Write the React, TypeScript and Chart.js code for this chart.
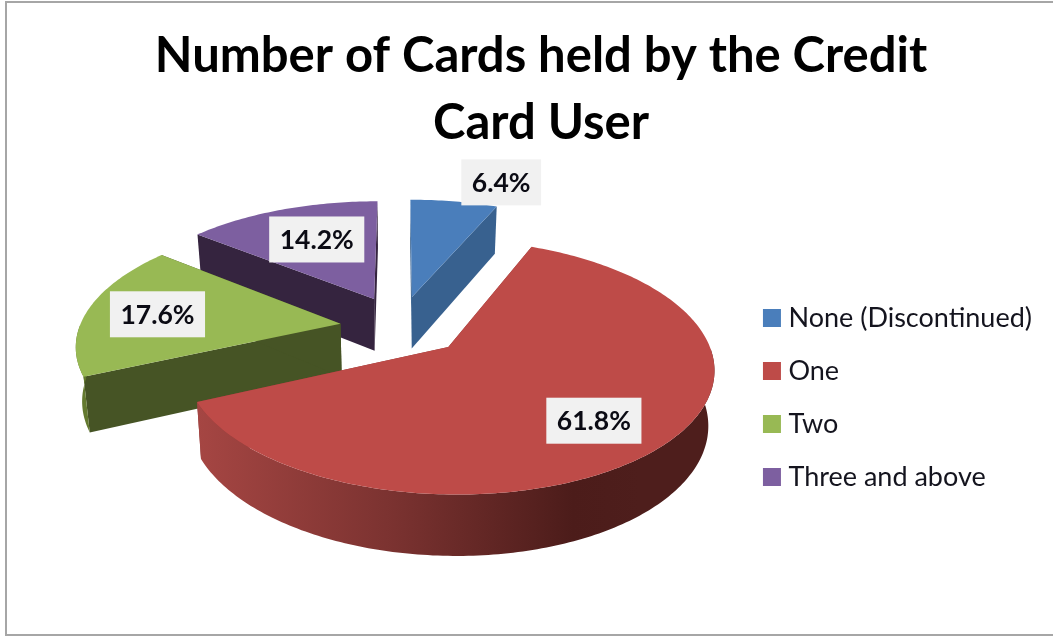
import React, { useEffect, useRef } from "react";
import { Chart, registerables } from "chart.js";

Chart.register(...registerables);

const titleLines = ["Number of Cards held by the Credit", "Card User"];
const categories = ["None (Discontinued)", "One", "Two", "Three and above"];
const shares = [6.4, 61.8, 17.6, 14.2];
const shareLabels = ["6.4%", "61.8%", "17.6%", "14.2%"];
const topColors = ["#4a7ebb", "#be4b48", "#98b954", "#7d5fa0"];
const cutColors = ["#38618f", "#8c3836", "#465425", "#35243f"];
const wallColors = ["#38618f", "", "#63792f", "#35243f"];

// view of the tilted pie
const CX = 400, CY = 324, RADIUS = 260;
const TILT = 0.462, PERSPECTIVE = 0.0006, TAPER = 0.02, DEPTH = 53;
const explodeBy = [62, 69, 62, 62];
const radiusBy = [1, 0.977, 1, 1];
const nudgeU = [0, -2.5, 2, 0];
const nudgeV = [0, 0, 7, 0];
const paintOrder = [0, 3, 2, 1];
const labelReach = [1.285, 0.71, 0.71, 0.63];
const labelTurn = [8, 4, -3, 1.5];
const labelBox = { padX: 10.5, height: 46 };
const legendShift = { x: 9, y: 68 };

function project(u: number, v: number, z: number) {
  const w = 1 - PERSPECTIVE * v;
  const k = 1 + TAPER * z;
  return { x: CX + u / w / k, y: CY + (TILT * v) / w / k + (DEPTH * z) / w };
}

function polygon(ctx: CanvasRenderingContext2D, pts: { x: number; y: number }[], fill: string | CanvasGradient) {
  ctx.beginPath();
  pts.forEach((p, i) => (i ? ctx.lineTo(p.x, p.y) : ctx.moveTo(p.x, p.y)));
  ctx.closePath();
  ctx.fillStyle = fill;
  ctx.fill();
}

const pie3d = {
  id: "pie3d",
  afterLayout(chart: any) {
    const lg = chart.legend;
    lg.left += legendShift.x;
    lg.right += legendShift.x;
    lg.top += legendShift.y;
    lg.bottom += legendShift.y;
  },
  beforeDatasetsDraw(chart: any) {
    const ctx: CanvasRenderingContext2D = chart.ctx;
    const arcs = chart.getDatasetMeta(0).data;
    const scale = RADIUS / arcs[0].outerRadius;

    const wallFill = ctx.createLinearGradient(195, 0, 640, 0);
    wallFill.addColorStop(0, "#a64643");
    wallFill.addColorStop(0.45, "#7a3230");
    wallFill.addColorStop(0.85, "#4c1c1a");
    wallFill.addColorStop(1, "#4e1e1c");

    for (const i of paintOrder) {
      const arc = arcs[i];
      const a0 = arc.startAngle, a1 = arc.endAngle;
      const mid = (a0 + a1) / 2;
      const ou = Math.cos(mid) * explodeBy[i] + nudgeU[i];
      const ov = Math.sin(mid) * explodeBy[i] + nudgeV[i];
      const r = arc.outerRadius * scale * radiusBy[i];
      const rim = (a: number, z: number) => project(ou + r * Math.cos(a), ov + r * Math.sin(a), z);
      const steps = Math.max(8, Math.ceil((a1 - a0) * 60));
      const angles: number[] = [];
      for (let s = 0; s <= steps; s++) angles.push(a0 + ((a1 - a0) * s) / steps);

      // cut faces
      for (const a of [a0, a1]) {
        polygon(ctx, [project(ou, ov, 0), rim(a, 0), rim(a, 1), project(ou, ov, 1)], cutColors[i]);
      }
      // outer wall (only the part facing the viewer)
      const front = angles.filter((a) => Math.sin(a) > 0);
      if (front.length > 1) {
        polygon(
          ctx,
          [...front.map((a) => rim(a, 0)), ...front.slice().reverse().map((a) => rim(a, 1))],
          wallColors[i] || wallFill
        );
      }
      // top face
      polygon(ctx, [project(ou, ov, 0), ...angles.map((a) => rim(a, 0))], arc.options.backgroundColor);
    }

    // value labels
    ctx.font = "bold 26.5px Lato";
    ctx.textAlign = "center";
    ctx.textBaseline = "middle";
    arcs.forEach((arc: any, i: number) => {
      const mid = (arc.startAngle + arc.endAngle) / 2;
      const turned = mid + (labelTurn[i] * Math.PI) / 180;
      const rr = labelReach[i] * RADIUS;
      const p = project(
        Math.cos(mid) * explodeBy[i] + rr * Math.cos(turned),
        Math.sin(mid) * explodeBy[i] + rr * Math.sin(turned),
        0
      );
      const tw = ctx.measureText(shareLabels[i]).width + labelBox.padX * 2;
      ctx.fillStyle = "#f1f1f1";
      ctx.fillRect(p.x - tw / 2, p.y - labelBox.height / 2, tw, labelBox.height);
      ctx.fillStyle = "#0b0b14";
      ctx.fillText(shareLabels[i], p.x, p.y + 1);
    });
    return false;
  },
};

export default function App() {
  const ref = useRef<HTMLCanvasElement | null>(null);
  useEffect(() => {
    document.documentElement.style.overflow = "hidden";
    document.body.style.margin = "0";
    document.body.style.background = "#fff";
    const chart = new Chart(ref.current!, {
      type: "pie",
      data: {
        labels: categories,
        datasets: [{ data: shares, backgroundColor: topColors, borderWidth: 0 }],
      },
      plugins: [pie3d],
      options: {
        responsive: false,
        animation: false,
        events: [],
        layout: { padding: { left: 49, right: 20, top: 23, bottom: 0 } },
        plugins: {
          tooltip: { enabled: false },
          title: {
            display: true,
            text: titleLines,
            color: "#000",
            font: { family: "Lato", size: 49, weight: "bold", lineHeight: 1.367 },
            padding: { top: 0, bottom: 8 },
          },
          legend: {
            display: true,
            position: "right",
            labels: {
              color: "#14141e",
              font: { family: "Lato", size: 27 },
              boxWidth: 6,
              boxHeight: 6,
              padding: 26,
              generateLabels(c: any) {
                const base = (Chart as any).overrides.pie.plugins.legend.labels.generateLabels(c);
                return base.map((it: any, i: number) => ({ ...it, strokeStyle: topColors[i], lineWidth: 12 }));
              },
            },
          },
        },
      },
    } as any);
    return () => chart.destroy();
  }, []);
  return (
    <div style={{ position: "fixed", left: 0, top: 0, width: 1053, height: 636, overflow: "hidden", background: "#fff", filter: "blur(0.5px)" }}>
      <canvas ref={ref} width={1053} height={636} style={{ position: "absolute", left: 0, top: 0 }} />
      <div
        style={{
          position: "absolute",
          left: 5,
          top: 1,
          width: 1100,
          height: 631,
          border: "2px solid #a6a6a6",
          pointerEvents: "none",
        }}
      />
    </div>
  );
}
